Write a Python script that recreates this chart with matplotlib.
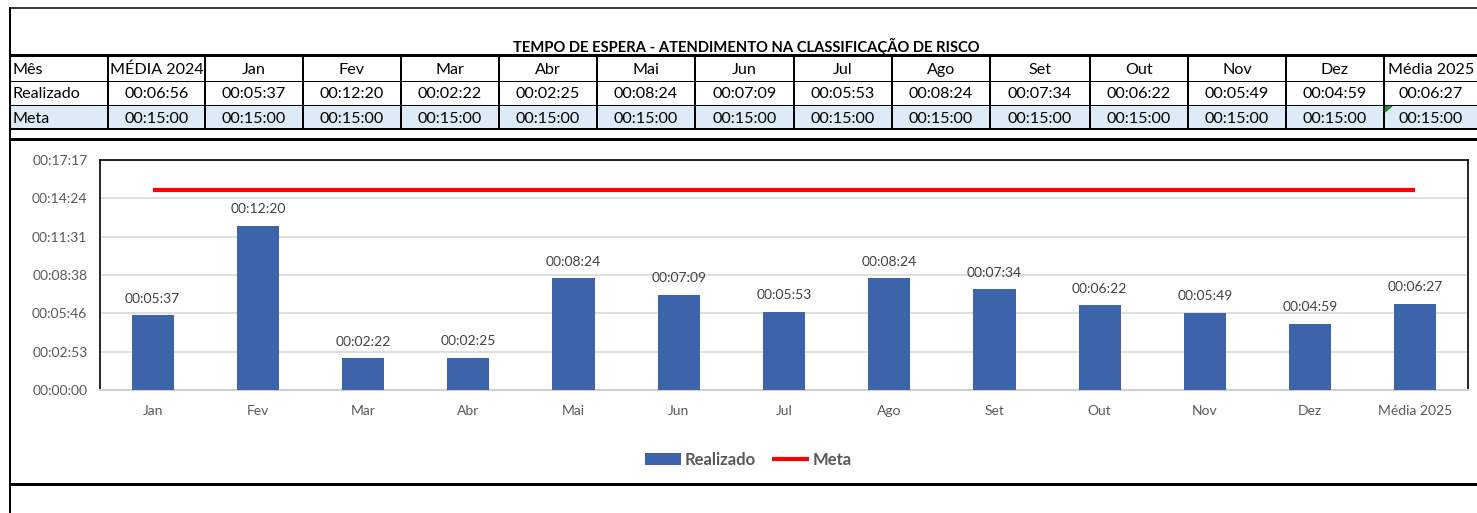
import numpy as np
import matplotlib
matplotlib.use("Agg")
import matplotlib.pyplot as plt
from matplotlib.patches import Rectangle, Polygon

# Data
titulo = "TEMPO DE ESPERA - ATENDIMENTO NA CLASSIFICAÇÃO DE RISCO"
meses = ["Jan", "Fev", "Mar", "Abr", "Mai", "Jun", "Jul", "Ago", "Set",
         "Out", "Nov", "Dez", "Média 2025"]
realizado = ["00:05:37", "00:12:20", "00:02:22", "00:02:25", "00:08:24",
             "00:07:09", "00:05:53", "00:08:24", "00:07:34", "00:06:22",
             "00:05:49", "00:04:59", "00:06:27"]
meta = ["00:15:00"] * 13
media_2024_realizado = "00:06:56"
media_2024_meta = "00:15:00"

def to_sec(s):
    h, m, sec = [int(p) for p in s.split(":")]
    return h * 3600 + m * 60 + sec

def fmt(sec):
    sec = int(round(sec))
    return f"{sec // 3600:02d}:{(sec % 3600) // 60:02d}:{sec % 60:02d}"

real_sec = np.array([to_sec(v) for v in realizado])
meta_sec = np.array([to_sec(v) for v in meta])

plt.rcParams['font.family'] = ['Lato', 'DejaVu Sans']

W, H = 1477, 513
fig = plt.figure(figsize=(W / 100, H / 100), dpi=100)

# background "spreadsheet" layer in pixel coords
bg = fig.add_axes([0, 0, 1, 1])
bg.set_xlim(0, W)
bg.set_ylim(H, 0)
bg.axis("off")

px = 72 / 100  # points per pixel

# Meta row fill
bg.add_patch(Rectangle((10, 105), W - 10, 24, color="#DDEBF7", zorder=0))

# frame lines
bg.plot([10, 10], [8, H], color="black", lw=2 * px)
bg.plot([10, W], [8, 8], color="black", lw=1.5 * px)
bg.plot([10, W], [55, 55], color="black", lw=3 * px)
bg.plot([10, W], [81, 81], color="black", lw=1 * px)
bg.plot([10, W], [105, 105], color="black", lw=1 * px)
bg.plot([10, W], [129, 129], color="black", lw=2 * px)
bg.plot([10, W], [139, 139], color="black", lw=3 * px)
bg.plot([10, W], [484, 484], color="black", lw=3 * px)

cols = [10, 108, 205, 303, 401, 499, 597, 695, 794, 892, 990, 1090, 1188, 1286, 1384, 1482]
for x in cols[1:-1]:
    bg.plot([x, x], [55, 129], color="black", lw=2 * px)

bg.text(746, 46, titulo, ha="center", va="center", fontsize=10.6, fontweight="bold")

fs_tab = 11.6
header = ["MÉDIA 2024"] + meses
row_real = [media_2024_realizado] + realizado
row_meta = [media_2024_meta] + meta
y_rows = [70, 94, 119]
bg.text(13, y_rows[0], "Mês", ha="left", va="center", fontsize=fs_tab)
bg.text(13, y_rows[1], "Realizado", ha="left", va="center", fontsize=fs_tab)
bg.text(13, y_rows[2], "Meta", ha="left", va="center", fontsize=fs_tab)
for i in range(len(header)):
    cx = (cols[i + 1] + cols[i + 2]) / 2
    if i == len(header) - 1:
        cx = 1431
    bg.text(cx, y_rows[0], header[i], ha="center", va="center", fontsize=fs_tab)
    bg.text(cx, y_rows[1], row_real[i], ha="center", va="center", fontsize=fs_tab)
    bg.text(cx, y_rows[2], row_meta[i], ha="center", va="center", fontsize=fs_tab)

# little green marker in the last Meta cell
bg.add_patch(Polygon([[1385, 106], [1392, 106], [1385, 112]], color="#1E8C2E"))

# chart
left, right, top, bottom = 100, 1468, 160, 390
ax = fig.add_axes([left / W, 1 - bottom / H, (right - left) / W, (bottom - top) / H])
x = np.arange(len(meses))
ymax = 0.012 * 86400
ax.set_xlim(-0.5, len(meses) - 0.5)
ax.set_ylim(0, ymax)

bars = ax.bar(x, real_sec, width=0.4, color="#3D64AB", zorder=3, label="Realizado")
line, = ax.plot(x, meta_sec, color="#FF0000", lw=3, solid_capstyle="butt", zorder=4, label="Meta")

for xi, v in zip(x, real_sec):
    ax.annotate(fmt(v), (xi, v), xytext=(0, 12), textcoords="offset points",
                ha="center", va="center", fontsize=10, color="#404040")

yt = np.arange(7) * 0.002 * 86400
ax.set_yticks(yt)
ax.set_yticklabels([fmt(v) for v in yt])
ax.set_xticks(x)
ax.set_xticklabels(meses)
ax.tick_params(axis="y", length=0, pad=9, labelsize=10, labelcolor="#595959")
ax.tick_params(axis="x", length=0, pad=11, labelsize=10, labelcolor="#595959")
ax.grid(axis="y", color="#D9D9D9", lw=1.2, zorder=0)
ax.set_axisbelow(True)
for s in ["left", "top", "right"]:
    ax.spines[s].set_color("black")
    ax.spines[s].set_linewidth(1.2)
ax.spines["bottom"].set_color("#D0D0D0")
ax.spines["bottom"].set_linewidth(1.5)

ax.legend([bars, line], ["Realizado", "Meta"], loc="center",
          bbox_to_anchor=(748 / W, 1 - 460 / H),
          bbox_transform=fig.transFigure, ncol=2, frameon=False,
          handlelength=2.2, handletextpad=0.2, columnspacing=1.0,
          prop={"size": 12, "weight": "bold"}, labelcolor="#595959")

fig.savefig("out.png", dpi=100)
